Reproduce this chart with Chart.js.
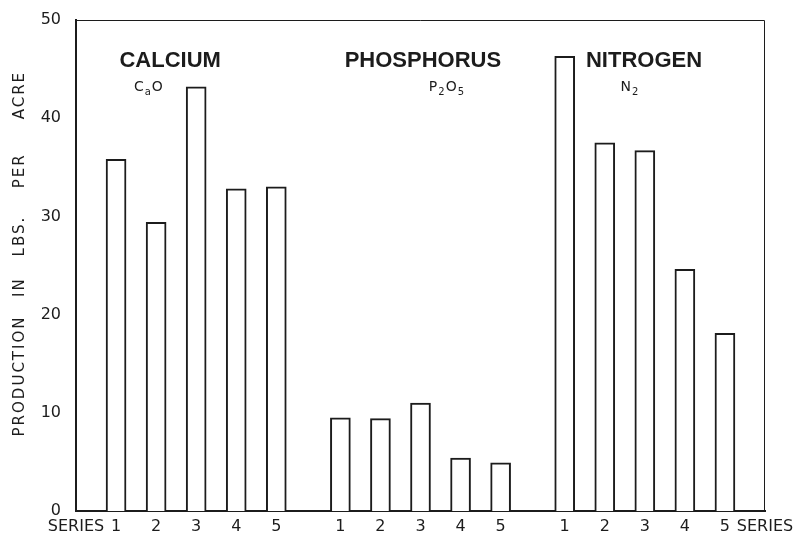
<!DOCTYPE html>
<html>
<head>
<meta charset="utf-8">
<script src="https://cdn.jsdelivr.net/npm/chart.js@4/dist/chart.umd.min.js"></script>
<style>
  html, body { margin: 0; padding: 0; background: #fff; }
  #wrap { width: 794px; height: 534px; }
</style>
</head>
<body>
<div id="wrap"><canvas id="c" width="794" height="534"></canvas></div>
<script>
// Production in lbs. per acre, series 1-5 for each nutrient
const SERIES = [1, 2, 3, 4, 5];
const calcium = [35.8, 29.4, 43.2, 32.8, 33.0];
const phosphorus = [9.5, 9.4, 11.0, 5.4, 4.9];
const nitrogen = [46.3, 37.5, 36.7, 24.6, 18.1];

const GROUP_NAMES = ['CALCIUM', 'PHOSPHORUS', 'NITROGEN'];
// chemical formulas: [text, isSubscript]
const GROUP_FORMULAS = [
  [['C', false], ['a', true], ['O', false]],
  [['P', false], ['2', true], ['O', false], ['5', true]],
  [['N', false], ['2', true]]
];
const Y_TICKS = [0, 10, 20, 30, 40, 50];
const AXIS_WORDS = ['PRODUCTION', 'IN', 'LBS.', 'PER', 'ACRE'];
const END_LABEL = 'SERIES';

// ---- layout (x axis measured in bar slots) ----
const GAP = 0.6;                    // extra space between nutrient groups
const SLOT = SERIES.length + GAP;   // width of one group incl. gap
const X_MIN = 0;
const X_MAX = 3 * SLOT - GAP + 1;
const INK = '#1c1c1c';
const FONT = '"DejaVu Sans", "Liberation Sans", sans-serif';

const groups = [calcium, phosphorus, nitrogen];
const points = [];
const tickValues = [X_MIN];
const tickLabels = [END_LABEL];
groups.forEach((vals, gi) => {
  SERIES.forEach((s, i) => {
    const x = gi * SLOT + s;
    points.push({ x: x, y: vals[i] });
    tickValues.push(x);
    tickLabels.push(String(s));
  });
});
tickValues.push(X_MAX);
tickLabels.push(END_LABEL);

// group headings: offsets (in slots) from the group's middle bar, heights in axis units
const HEAD_DX = [-0.65, 0.06, -0.02];
const FORM_DX = [-1.18, 0.66, -0.37];
const HEAD_Y = 45.8;
const FORM_Y = 43.1;
// vertical axis title: word centres as fractions of the plot height from the top
const WORD_POS = [0.725, 0.544, 0.440, 0.307, 0.153];

const decorations = {
  id: 'decorations',
  afterDraw(chart) {
    const { ctx, chartArea: a, scales: { x, y } } = chart;
    ctx.save();
    // frame (top and right sides)
    ctx.strokeStyle = INK;
    ctx.lineWidth = 1;
    ctx.beginPath();
    ctx.moveTo(a.left, a.top + 0.5);
    ctx.lineTo(a.right - 0.5, a.top + 0.5);
    ctx.lineTo(a.right - 0.5, a.bottom);
    ctx.stroke();

    ctx.fillStyle = INK;
    ctx.textBaseline = 'middle';
    GROUP_NAMES.forEach((name, gi) => {
      const mid = gi * SLOT + 3;
      ctx.font = 'bold 22px "Liberation Sans", ' + FONT;
      ctx.textAlign = 'center';
      ctx.fillText(name, x.getPixelForValue(mid + HEAD_DX[gi]), y.getPixelForValue(HEAD_Y));

      // formula with subscripts
      const parts = GROUP_FORMULAS[gi];
      const big = '14px ' + FONT, small = '10px ' + FONT;
      let w = 0;
      parts.forEach(([t, sub]) => { ctx.font = sub ? small : big; w += ctx.measureText(t).width + 1; });
      let px = x.getPixelForValue(mid + FORM_DX[gi]) - w / 2;
      const py = y.getPixelForValue(FORM_Y);
      ctx.textAlign = 'left';
      parts.forEach(([t, sub]) => {
        ctx.font = sub ? small : big;
        ctx.fillText(t, px, sub ? py + 5 : py);
        px += ctx.measureText(t).width + 1;
      });
    });

    // vertical axis title, words spread along the axis
    ctx.font = '15px ' + FONT;
    ctx.textAlign = 'center';
    if ('letterSpacing' in ctx) ctx.letterSpacing = '2px';
    AXIS_WORDS.forEach((wd, i) => {
      ctx.save();
      ctx.translate(20, a.top + WORD_POS[i] * (a.bottom - a.top));
      ctx.rotate(-Math.PI / 2);
      ctx.fillText(wd, 0, 0);
      ctx.restore();
    });
    ctx.restore();
  }
};

new Chart(document.getElementById('c'), {
  type: 'bar',
  data: {
    datasets: [{
      data: points,
      backgroundColor: '#ffffff',
      borderColor: INK,
      borderWidth: 2,
      barThickness: 20
    }]
  },
  options: {
    responsive: false,
    animation: false,
    layout: { padding: { top: 20, right: 29, bottom: 0, left: 0 } },
    plugins: { legend: { display: false }, tooltip: { enabled: false } },
    scales: {
      x: {
        type: 'linear',
        offset: false,
        min: X_MIN,
        max: X_MAX,
        grid: { display: false, drawTicks: false, offset: false },
        border: { color: INK, width: 2 },
        afterBuildTicks: s => { s.ticks = tickValues.map(v => ({ value: v })); },
        afterFit: s => { s.height = 23; s.paddingLeft = 0; s.paddingRight = 0; },
        ticks: {
          autoSkip: false,
          maxRotation: 0,
          minRotation: 0,
          padding: 6,
          color: INK,
          font: { family: FONT, size: 16 },
          callback: (v, i) => tickLabels[i]
        }
      },
      y: {
        min: 0,
        max: 50,
        grid: { display: false, drawTicks: false },
        border: { color: INK, width: 2 },
        afterBuildTicks: s => { s.ticks = Y_TICKS.map(v => ({ value: v })); },
        afterFit: s => { s.width = 76; s.paddingTop = 0; s.paddingBottom = 0; },
        ticks: {
          padding: 15,
          color: INK,
          font: { family: FONT, size: 16 }
        }
      }
    }
  },
  plugins: [decorations]
});
</script>
</body>
</html>
